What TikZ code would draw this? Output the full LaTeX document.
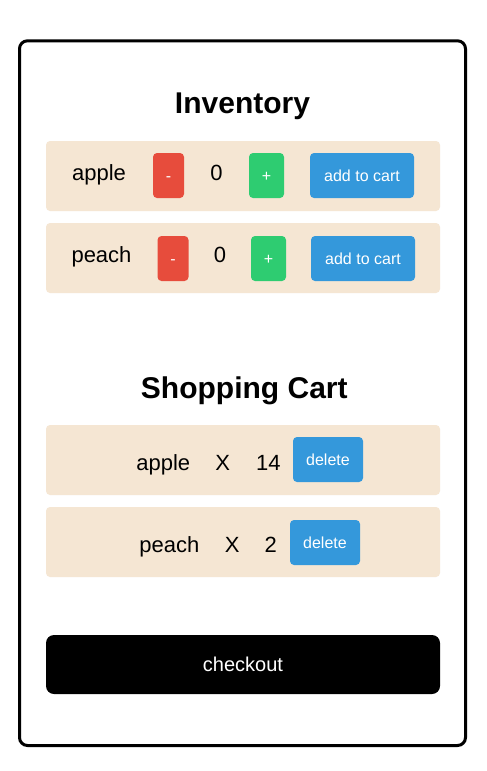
\documentclass[tikz,border=0pt]{standalone}
\usepackage{fontspec}
\setmainfont{Liberation Sans}
\definecolor{rowbg}{HTML}{F5E6D3}
\definecolor{btnred}{HTML}{E74C3C}
\definecolor{btngreen}{HTML}{2ECC71}
\definecolor{btnblue}{HTML}{3498DB}
\tikzset{
  rowbox/.style={fill=rowbg, rounded corners=4pt, minimum width=394pt, minimum height=70pt, inner sep=0pt},
  btn/.style={rounded corners=4pt, inner sep=0pt, text=white, text height=11.5pt, text depth=0pt, font=\fontsize{16}{18}\selectfont},
  minusbtn/.style={btn, fill=btnred, minimum width=31pt, minimum height=45pt},
  plusbtn/.style={btn, fill=btngreen, minimum width=35pt, minimum height=45pt},
  cartbtn/.style={btn, fill=btnblue, minimum width=104pt, minimum height=45pt},
  delbtn/.style={btn, fill=btnblue, minimum width=70pt, minimum height=45pt},
  label/.style={inner sep=0pt, anchor=base, font=\fontsize{22}{24}\selectfont},
  heading/.style={inner sep=0pt, anchor=base, font=\fontsize{30}{32}\selectfont\bfseries},
}
\begin{document}
\begin{tikzpicture}[x=1pt,y=-1pt]
\useasboundingbox (0,0) rectangle (487,771);
\fill[white] (0,0) rectangle (487,771);
\draw[line width=3pt, rounded corners=8pt] (19.5,40.8) rectangle (465.5,745.5);

\node[heading] (invtitle) at (242.5,113.3) {Inventory};

\node[rowbox] (row1) at (243,176) {};
\node[label] (apple1) at (99,180) {apple};
\node[minusbtn] (minus1) at (168.5,175.5) {-};
\node[label] (count1) at (216.5,180) {0};
\node[plusbtn] (plus1) at (266.5,175.5) {+};
\node[cartbtn] (add1) at (362,175.5) {add to cart};

\node[rowbox] (row2) at (243,258) {};
\node[label] (peach1) at (101.5,262.3) {peach};
\node[minusbtn] (minus2) at (173,258.5) {-};
\node[label] (count2) at (220,262.3) {0};
\node[plusbtn] (plus2) at (268.5,258.5) {+};
\node[cartbtn] (add2) at (363,258.5) {add to cart};

\node[heading] (carttitle) at (244.3,398.3) {Shopping Cart};

\node[rowbox] (row3) at (243,460) {};
\node[label] (apple2) at (163.3,470) {apple};
\node[label] (x1) at (222.7,470) {X};
\node[label] (qty1) at (268.3,470) {14};
\node[delbtn] (del1) at (328,459.5) {delete};

\node[rowbox] (row4) at (243,542) {};
\node[label] (peach2) at (169.3,552.7) {peach};
\node[label] (x2) at (232.3,552.7) {X};
\node[label] (qty2) at (270.7,552.7) {2};
\node[delbtn] (del2) at (325,542.5) {delete};

\node[fill=black, rounded corners=8pt, minimum width=394pt, minimum height=59pt, inner sep=0pt,
      text=white, text height=14.4pt, text depth=0pt, font=\fontsize{20}{22}\selectfont] (checkout) at (243,664.5) {checkout};
\end{tikzpicture}
\end{document}
